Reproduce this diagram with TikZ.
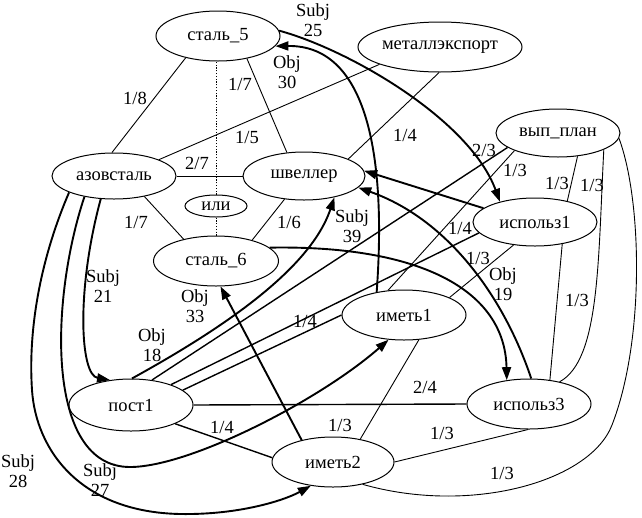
\documentclass[tikz,border=0pt]{standalone}
\usepackage{fontspec}
\setmainfont{Liberation Serif}
\usetikzlibrary{shapes.geometric,arrows.meta}
\begin{document}
\begin{tikzpicture}[x=1pt,y=-1pt,
  every node/.style={font=\fontsize{18.5}{19.5}\selectfont},
  ell/.style={draw,ellipse,line width=1pt,inner sep=0pt},
  lbl/.style={inner sep=0pt,align=center},
  thinln/.style={line width=0.9pt},
  dotln/.style={line width=0.8pt,dash pattern=on 1.2pt off 1.6pt},
  midln/.style={line width=1.4pt},
  arr/.style={line width=1.9pt,-{Triangle[length=13pt,width=9pt]}},
]
\useasboundingbox (0,0) rectangle (642,517);
\fill[white] (0,0) rectangle (642,517);

% nodes
\node[ell,minimum width=124pt,minimum height=50pt] (s5) at (218,36) {сталь\_5};
\node[ell,minimum width=156pt,minimum height=50pt] (met) at (440,47) {металлэкспорт};
\node[ell,minimum width=124pt,minimum height=46pt] (az) at (114,176) {азовсталь};
\node[ell,minimum width=122pt,minimum height=48pt] (shv) at (304,176) {швеллер};
\node[ell,minimum width=62pt,minimum height=22pt] (ili) at (216,206) {или};
\node[ell,minimum width=125pt,minimum height=50pt] (s6) at (216,261) {сталь\_6};
\node[ell,minimum width=124pt,minimum height=48pt] (vyp) at (558,133) {вып\_план};
\node[ell,minimum width=124pt,minimum height=48pt] (isp1) at (535,222) {использ1};
\node[ell,minimum width=124pt,minimum height=50pt] (im1) at (404,315) {иметь1};
\node[ell,minimum width=124pt,minimum height=52pt] (post) at (131,405) {пост1};
\node[ell,minimum width=124pt,minimum height=50pt] (isp3) at (529,404) {использ3};
\node[ell,minimum width=122pt,minimum height=50pt] (im2) at (333,462) {иметь2};

% thin connectors
\draw[thinln] (s5.214) -- (az.95);
\draw[thinln] (s5.322) -- (shv.126);
\draw[dotln] (ili.north) -- (ili.north |- s5.south);
\draw[dotln] (ili.south) -- (ili.south |- s6.north);
\draw[thinln] (met.196) -- (az.20);
\draw[thinln] (met.268) -- (shv.21);
\draw[thinln] (az.east) -- (shv.west);
\draw[thinln] (az.326) -- (s6.146);
\draw[thinln] (shv.230) -- (s6.30);
\draw[thinln] (vyp.202) -- (im1.123);
\draw[thinln] (vyp.310) -- (isp1.33);
\draw[thinln] (vyp.340) .. controls (598,260) and (600,360) .. (isp3.36);
\draw[thinln] (isp1.321) -- (isp3.49);
\draw[thinln] (vyp.355) .. controls (642,200) and (645,340) .. (612,425) .. controls (590,482) and (470,515) .. (im2.323);
\draw[thinln] (im1.301) -- (im2.40);
\draw[thinln] (isp3.268) -- (im2.east);
\draw[thinln] (isp1.227) -- (im1.21);

% connectors of пост1
\draw[midln] (post.east) -- (isp3.west);
\draw[midln] (post.337) -- (im2.176);
\draw[midln] (post.16) -- (im1.west);
\draw[midln] (post.27) -- (isp1.191);
\draw[midln] (post.50) -- (vyp.196);

% arrows
\draw[arr] (az.240) .. controls (76,290) and (80,375) .. (post.130);
\draw[arr] (az.215) .. controls (50,300) and (45,467) .. (130,467) .. controls (190,467) and (320,400) .. (im1.238);
\draw[arr] (az.200) .. controls (40,260) and (28,330) .. (32,390) .. controls (36,450) and (80,512) .. (180,514) .. controls (240,515) and (285,500) .. (im2.227);
\draw[arr] (im2.145) -- (s6.280);
\draw[arr] (im1.140) .. controls (387,150) and (365,45) .. (s5.350);
\draw[arr] (s5.5) .. controls (350,50) and (470,120) .. (isp1.150);
\draw[arr] (post.88) .. controls (220,330) and (310,270) .. (shv.325);
\draw[arr] (isp1.165) -- (shv.5);
\draw[arr] (isp3.85) .. controls (505,300) and (450,220) .. (shv.348);
\draw[arr] (s6.14) .. controls (420,245) and (505,290) .. (isp3.133);

% labels
\node[lbl] (f1) at (135,98) {1/8};
\node[lbl] (f2) at (240,84) {1/7};
\node[lbl] (f3) at (247,137) {1/5};
\node[lbl] (f4) at (197,163) {2/7};
\node[lbl] (f5) at (136,222) {1/7};
\node[lbl] (f6) at (289,222) {1/6};
\node[lbl] (f7) at (405,135) {1/4};
\node[lbl] (f8) at (484,150) {2/3};
\node[lbl] (f9) at (515,170) {1/3};
\node[lbl] (f10) at (557,183) {1/3};
\node[lbl] (f11) at (592,185) {1/3};
\node[lbl] (f12) at (460,228) {1/4};
\node[lbl] (f13) at (478,258) {1/3};
\node[lbl] (f14) at (577,300) {1/3};
\node[lbl] (f15) at (305,321) {1/4};
\node[lbl] (f16) at (425,387) {2/4};
\node[lbl] (f17) at (222,427) {1/4};
\node[lbl] (f18) at (340,425) {1/3};
\node[lbl] (f19) at (442,433) {1/3};
\node[lbl] (f20) at (502,473) {1/3};

\node[lbl] (r1) at (313,20) {Subj\\25};
\node[lbl] (r2) at (287,72) {Obj\\30};
\node[lbl] (r3) at (352,226) {Subj\\39};
\node[lbl] (r4) at (503,284) {Obj\\19};
\node[lbl] (r5) at (103,286) {Subj\\21};
\node[lbl] (r6) at (195,306) {Obj\\33};
\node[lbl] (r7) at (152,345) {Obj\\18};
\node[lbl] (r8) at (18,471) {Subj\\28};
\node[lbl] (r9) at (100,480) {Subj\\27};
\end{tikzpicture}
\end{document}
